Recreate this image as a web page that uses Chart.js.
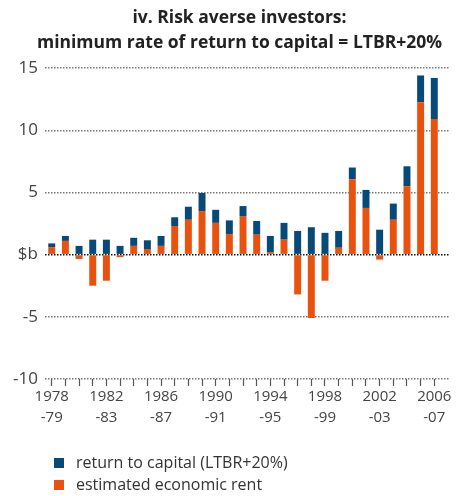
<!DOCTYPE html>
<html>
<head>
<meta charset="utf-8">
<script src="https://cdn.jsdelivr.net/npm/chart.js@4.4.0/dist/chart.umd.min.js"></script>
<style>
  html, body { margin: 0; padding: 0; background: #fff; }
  #wrap { position: relative; width: 459px; height: 496px; }
  #title { position: absolute; left: 0; top: 4px; width: 479px; text-align: center;
    font: bold 17.5px/25px "Open Sans", sans-serif; color: #222; white-space: nowrap; }
  #legend { position: absolute; left: 54px; top: 451px; font: 16px "Open Sans", sans-serif; color: #333; }
  #legend div { height: 22px; line-height: 22px; white-space: nowrap; }
  #legend span { display: inline-block; width: 10px; height: 10px; margin-right: 12px; }
</style>
</head>
<body>
<div id="wrap">
  <canvas id="chart" width="459" height="496"></canvas>
  <div id="title"></div>
  <div id="legend"></div>
</div>
<script>
const titleLines = ['iv. Risk averse investors:', 'minimum rate of return to capital = LTBR+20%'];

const years = ['1978-79', '1979-80', '1980-81', '1981-82', '1982-83', '1983-84', '1984-85', '1985-86',
  '1986-87', '1987-88', '1988-89', '1989-90', '1990-91', '1991-92', '1992-93', '1993-94', '1994-95',
  '1995-96', '1996-97', '1997-98', '1998-99', '1999-00', '2000-01', '2001-02', '2002-03', '2003-04',
  '2004-05', '2005-06', '2006-07'];

// estimated economic rent, $b
const rent = [0.6, 1.1, -0.35, -2.5, -2.1, -0.2, 0.7, 0.45, 0.7, 2.3, 2.8, 3.5, 2.55, 1.65, 3.1, 1.6,
  0.2, 1.2, -3.2, -5.1, -2.1, 0.55, 6.05, 3.75, -0.4, 2.8, 5.5, 12.25, 10.9];

// return to capital (LTBR+20%), $b
const capital = [0.3, 0.4, 0.7, 1.2, 1.2, 0.7, 0.65, 0.7, 0.8, 0.7, 1.05, 1.45, 1.05, 1.1, 0.8, 1.1,
  1.3, 1.35, 1.9, 2.2, 1.75, 1.35, 0.95, 1.45, 2.0, 1.3, 1.6, 2.15, 3.3];

const yTicks = [-10, -5, 0, 5, 10, 15];

const BLUE = '#064a7a';
const ORANGE = '#e9520e';

const chart = new Chart(document.getElementById('chart'), {
  type: 'bar',
  data: {
    labels: years,
    datasets: [
      { label: 'estimated economic rent', data: rent, backgroundColor: ORANGE },
      { label: 'return to capital (LTBR+20%)', data: capital, backgroundColor: BLUE }
    ]
  },
  options: {
    responsive: false,
    animation: false,
    layout: { padding: { left: 6, right: 9, top: 68, bottom: 68 } },
    datasets: { bar: { barPercentage: 0.51, categoryPercentage: 1 } },
    plugins: {
      legend: { display: false },
      tooltip: { enabled: false },
      title: { display: false }
    },
    scales: {
      x: {
        stacked: true,
        afterBuildTicks: scale => { scale._valueRange += 0.65; }, // let gridlines run past the last bar
        grid: {
          offset: false,
          drawOnChartArea: false,
          drawTicks: true,
          tickLength: 7,
          color: '#555',
          tickColor: '#555',
          tickWidth: 1.2
        },
        border: { display: false },
        ticks: {
          autoSkip: false,
          maxRotation: 0,
          padding: 0,
          color: '#444',
          font: { family: 'Open Sans', size: 15, lineHeight: 1.4 },
          callback: (v, i) => {
            if (i % 4 !== 0) return '';
            const parts = years[i].split('-');
            return [parts[0], '-' + parts[1]];
          }
        }
      },
      y: {
        stacked: true,
        min: yTicks[0],
        max: yTicks[yTicks.length - 1],
        afterBuildTicks: scale => { scale.ticks = yTicks.map(v => ({ value: v })); },
        grid: {
          drawTicks: false,
          lineWidth: 1.4,
          color: ctx => (ctx.tick && ctx.tick.value === 0 ? '#111' : '#777')
        },
        border: { display: false, dash: [1.5, 1.5] },
        ticks: {
          padding: 7,
          color: '#444',
          font: { family: 'Open Sans', size: 17 },
          callback: v => (v === 0 ? '$b' : v)
        }
      }
    }
  }
});

document.getElementById('title').innerHTML = titleLines.join('<br>');

// vertical legend, blue first
const legend = document.getElementById('legend');
chart.data.datasets.slice().reverse().forEach(ds => {
  const row = document.createElement('div');
  row.innerHTML = `<span style="background:${ds.backgroundColor}"></span>${ds.label}`;
  legend.appendChild(row);
});
</script>
</body>
</html>
